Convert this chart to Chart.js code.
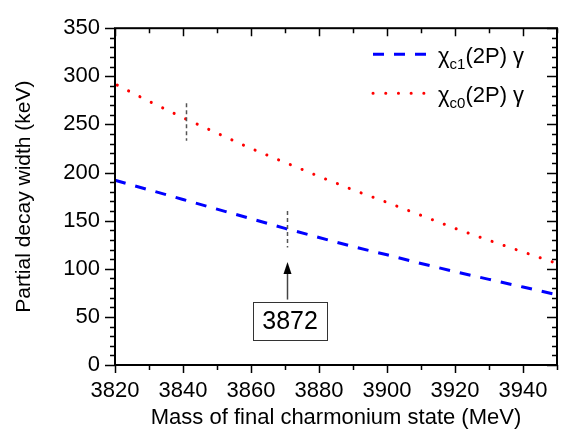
<!DOCTYPE html>
<html>
<head>
<meta charset="utf-8">
<script src="https://cdn.jsdelivr.net/npm/chart.js@4.4.1/dist/chart.umd.min.js"></script>
<style>
  html, body { margin: 0; padding: 0; background: #fff; }
</style>
</head>
<body>
<canvas id="myChart" width="563" height="440"></canvas>
<script>
// masses of the final charmonium state (MeV)
const masses = [3820, 3830, 3840, 3850, 3860, 3870, 3880, 3890, 3900, 3910, 3920, 3930, 3940, 3950];
// partial widths (keV)
const chic1Width = [192, 182, 172, 162, 152, 142, 132.5, 123, 114.5, 105.5, 97, 89, 81, 73];
const chic0Width = [292, 274, 257, 241, 225, 210.5, 196, 182, 169, 155.5, 142, 129.5, 117.5, 105.5];

const xTicks = [3820, 3840, 3860, 3880, 3900, 3920, 3940];
const yTicks = [0, 50, 100, 150, 200, 250, 300, 350];

const legendMain = ['χ', 'χ'];
const legendSub = ['c1', 'c0'];
const legendTail = ['(2P) γ', '(2P) γ'];

// uncertainty markers and the X(3872) label
const markerMass = [3841, 3870.5];
const markerLow = [233, 122];
const markerHigh = [272, 160];
const arrowMass = 3870.5;
const arrowFrom = 68;
const arrowTo = 107;
const boxText = '3872';
const boxMass = 3871.5;
const boxWidthValue = 46;

const FONT = '"Liberation Sans", Arial, sans-serif';

function toPoints(ys) {
    return masses.map((m, i) => ({ x: m, y: ys[i] }));
}

const frameTicks = {
    id: 'frameTicks',
    afterDraw(chart) {
        const ctx = chart.ctx;
        const a = chart.chartArea;
        const xs = chart.scales.x, ys = chart.scales.y;
        ctx.save();
        ctx.strokeStyle = '#000';
        ctx.lineWidth = 2;
        ctx.strokeRect(a.left, a.top, a.right - a.left, a.bottom - a.top);
        ctx.lineWidth = 1.5;
        ctx.beginPath();
        for (let v = 3820; v <= 3950; v += 10) {
            const px = Math.round(xs.getPixelForValue(v)) + 0.5;
            const len = (v - 3820) % 20 === 0 ? 8 : 5;
            ctx.moveTo(px, a.bottom); ctx.lineTo(px, a.bottom + len);
            ctx.moveTo(px, a.top); ctx.lineTo(px, a.top + len);
        }
        for (let v = 0; v <= 350; v += 10) {
            const py = Math.round(ys.getPixelForValue(v)) + 0.5;
            const len = v % 50 === 0 ? 10 : 5;
            ctx.moveTo(a.left, py); ctx.lineTo(a.left - len, py);
            ctx.moveTo(a.right, py); ctx.lineTo(a.right - len, py);
        }
        ctx.stroke();
        ctx.restore();
    }
};

const annotations = {
    id: 'annotations',
    afterDatasetsDraw(chart) {
        const ctx = chart.ctx;
        const xs = chart.scales.x, ys = chart.scales.y;
        ctx.save();
        // dashed error bars
        ctx.strokeStyle = '#555';
        ctx.lineWidth = 1.5;
        ctx.setLineDash([4, 3]);
        markerMass.forEach((m, i) => {
            const px = Math.round(xs.getPixelForValue(m)) + 0.5;
            ctx.beginPath();
            ctx.moveTo(px, ys.getPixelForValue(markerHigh[i]));
            ctx.lineTo(px, ys.getPixelForValue(markerLow[i]));
            ctx.stroke();
        });
        ctx.setLineDash([]);
        // arrow
        const ax = Math.round(xs.getPixelForValue(arrowMass)) + 0.5;
        const tip = ys.getPixelForValue(arrowTo);
        ctx.strokeStyle = '#444';
        ctx.beginPath();
        ctx.moveTo(ax, ys.getPixelForValue(arrowFrom));
        ctx.lineTo(ax, tip + 10);
        ctx.stroke();
        ctx.fillStyle = '#000';
        ctx.beginPath();
        ctx.moveTo(ax, tip);
        ctx.lineTo(ax - 4, tip + 12);
        ctx.lineTo(ax + 4, tip + 12);
        ctx.closePath();
        ctx.fill();
        // label box
        const bx = xs.getPixelForValue(boxMass);
        const by = ys.getPixelForValue(boxWidthValue);
        ctx.fillStyle = '#fff';
        ctx.fillRect(bx - 37, by - 19, 74, 38);
        ctx.strokeStyle = '#333';
        ctx.lineWidth = 1;
        ctx.strokeRect(Math.round(bx - 37) + 0.5, Math.round(by - 19) + 0.5, 74, 38);
        ctx.fillStyle = '#000';
        ctx.font = '25px ' + FONT;
        ctx.textAlign = 'center';
        ctx.textBaseline = 'middle';
        ctx.fillText(boxText, bx, by + 1);

        // legend
        const a = chart.chartArea;
        chart.data.datasets.forEach((ds, i) => {
            const rowY = a.top + 26 + i * 39;
            ctx.strokeStyle = ds.borderColor;
            ctx.lineWidth = ds.borderWidth;
            ctx.lineCap = ds.borderCapStyle || 'butt';
            ctx.setLineDash(ds.borderDash);
            ctx.beginPath();
            ctx.moveTo(a.right - 184, rowY);
            ctx.lineTo(a.right - 130, rowY);
            ctx.stroke();
            ctx.setLineDash([]);
            ctx.lineCap = 'butt';
            ctx.fillStyle = '#000';
            ctx.textAlign = 'left';
            ctx.textBaseline = 'alphabetic';
            let tx = a.right - 119;
            const base = rowY + 9;
            ctx.font = '22px ' + FONT;
            ctx.fillText(legendMain[i], tx, base);
            tx += ctx.measureText(legendMain[i]).width;
            ctx.font = '15px ' + FONT;
            ctx.fillText(legendSub[i], tx, base + 6);
            tx += ctx.measureText(legendSub[i]).width;
            ctx.font = '22px ' + FONT;
            ctx.fillText(legendTail[i], tx, base);
        });
        ctx.restore();
    }
};

let ctx = document.getElementById('myChart');
let myChart = new Chart(ctx, {
    type: 'line',
    data: {
        datasets: [{
            label: 'χc1(2P) γ',
            data: toPoints(chic1Width),
            borderColor: '#0000ff',
            borderWidth: 3,
            borderDash: [11, 10],
            pointRadius: 0,
            tension: 0,
            clip: 2
        }, {
            label: 'χc0(2P) γ',
            data: toPoints(chic0Width),
            borderColor: '#ff0000',
            borderWidth: 3,
            borderDash: [0.1, 12.6],
            borderDashOffset: -2.5,
            borderCapStyle: 'round',
            pointRadius: 0,
            tension: 0,
            clip: 2
        }]
    },
    options: {
        responsive: false,
        animation: false,
        layout: { padding: { top: 15, right: 6, left: 0, bottom: 0 } },
        plugins: { legend: { display: false }, tooltip: { enabled: false } },
        scales: {
            x: {
                type: 'linear',
                min: 3820,
                max: 3950,
                afterBuildTicks: s => { s.ticks = xTicks.map(v => ({ value: v })); },
                afterFit: s => { s.height = 75; },
                grid: { display: false, drawTicks: false },
                border: { display: false },
                ticks: {
                    color: '#000', padding: 13, maxRotation: 0,
                    font: { family: FONT, size: 22 },
                    callback: v => String(v)
                },
                title: {
                    display: true,
                    text: 'Mass of final charmonium state (MeV)',
                    color: '#000',
                    padding: { top: 0, bottom: 9 },
                    font: { family: FONT, size: 22 }
                }
            },
            y: {
                min: 0,
                max: 350,
                afterBuildTicks: s => { s.ticks = yTicks.map(v => ({ value: v })); },
                afterFit: s => { s.width = 115; },
                grid: { display: false, drawTicks: false },
                border: { display: false },
                ticks: { color: '#000', padding: 15, font: { family: FONT, size: 22 } },
                title: {
                    display: true,
                    text: 'Partial decay width (keV)',
                    color: '#000',
                    padding: { top: 12, bottom: 0 },
                    font: { family: FONT, size: 21 }
                }
            }
        }
    },
    plugins: [frameTicks, annotations]
});
</script>
</body>
</html>
